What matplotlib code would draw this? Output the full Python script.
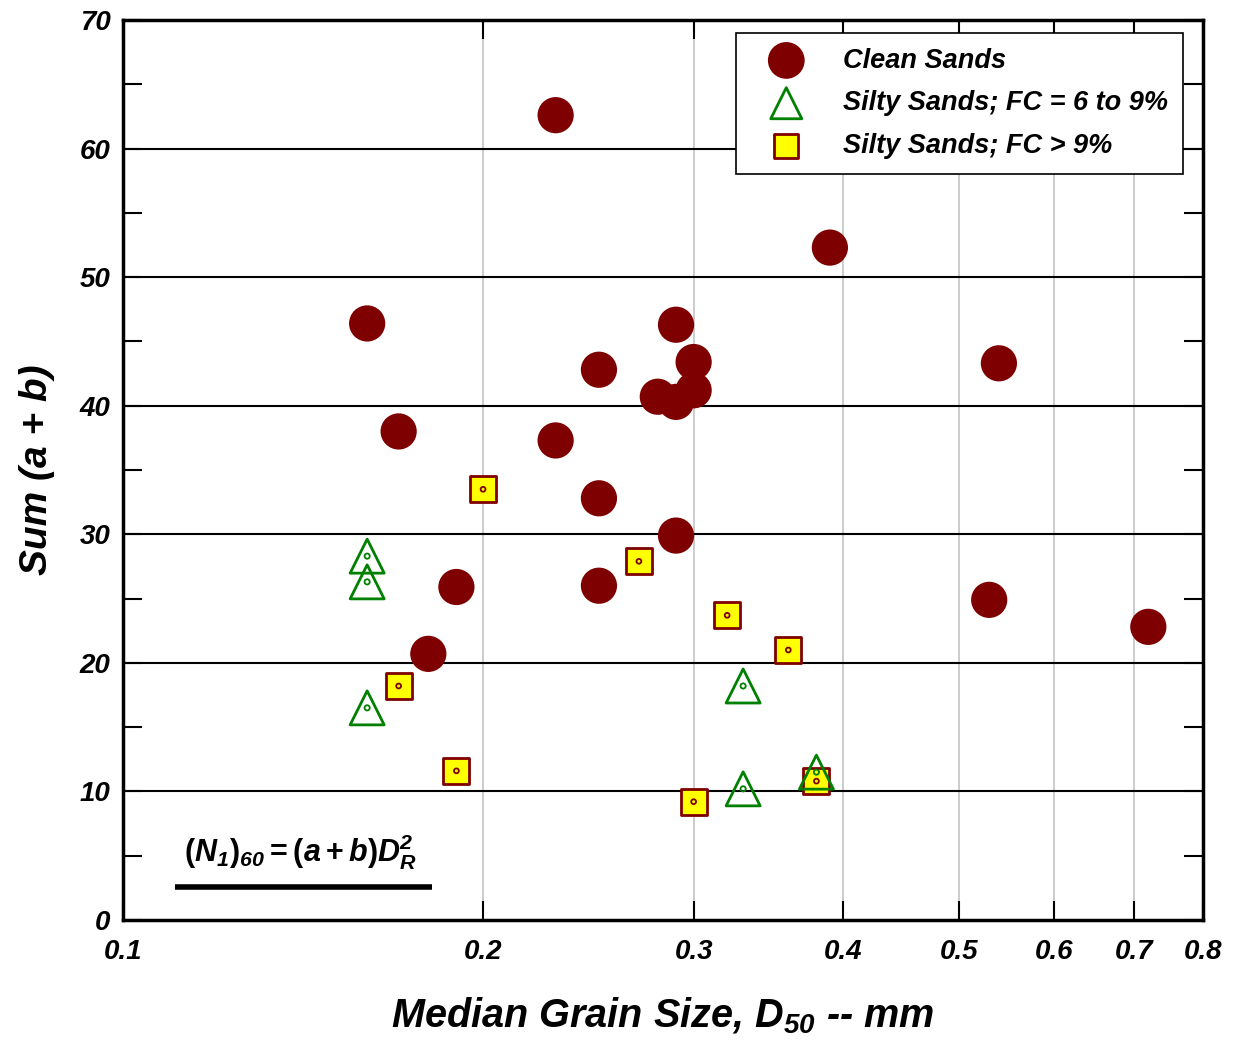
import numpy as np
import matplotlib.pyplot as plt
from matplotlib.ticker import FixedLocator, NullFormatter, NullLocator

plt.rcParams['font.family'] = ['Liberation Sans', 'DejaVu Sans']
plt.rcParams['mathtext.fontset'] = 'custom'
plt.rcParams['mathtext.bfit'] = 'Liberation Sans:bold:italic'
plt.rcParams['mathtext.it'] = 'Liberation Sans:bold:italic'
plt.rcParams['mathtext.rm'] = 'Liberation Sans:bold'

# clean sands
clean_d50 = [0.23, 0.39, 0.16, 0.29, 0.30, 0.25, 0.54, 0.28, 0.29, 0.30,
             0.17, 0.23, 0.25, 0.29, 0.19, 0.25, 0.53, 0.18, 0.72]
clean_sum = [62.6, 52.3, 46.4, 46.3, 43.4, 42.8, 43.3, 40.7, 40.3, 41.2,
             38.0, 37.3, 32.8, 29.9, 25.9, 26.0, 24.9, 20.7, 22.8]

# silty sands, FC = 6 to 9%
fc69_d50 = [0.16, 0.16, 0.16, 0.33, 0.33, 0.38]
fc69_sum = [28.3, 26.3, 16.5, 18.2, 10.2, 11.5]

# silty sands, FC > 9%
fc9_d50 = [0.20, 0.27, 0.32, 0.36, 0.17, 0.19, 0.30, 0.38]
fc9_sum = [33.5, 27.9, 23.7, 21.0, 18.2, 11.6, 9.2, 10.8]

xticks = [0.1, 0.2, 0.3, 0.4, 0.5, 0.6, 0.7, 0.8]
xtick_labels = ['0.1', '0.2', '0.3', '0.4', '0.5', '0.6', '0.7', '0.8']
yticks = [0, 10, 20, 30, 40, 50, 60, 70]

dark_red = '#7f0000'
green = '#008000'

fig = plt.figure(figsize=(12.33, 10.44), dpi=100)
ax = fig.add_axes([0.0998, 0.1188, 0.8759, 0.862])

ax.set_xscale('log')
ax.set_xlim(0.1, 0.8)
ax.set_ylim(0, 70)

# grid: gray verticals, black horizontals
for xv in xticks[1:-1]:
    ax.axvline(xv, color='#c8c8c8', lw=1.3, zorder=0)
for yv in yticks[1:-1]:
    ax.axhline(yv, color='black', lw=1.5, zorder=0)

ax.scatter(clean_d50, clean_sum, s=680, marker='o', color=dark_red,
           edgecolors='none', zorder=3)
ax.scatter(fc9_d50, fc9_sum, s=340, marker='s', facecolor='#ffff00',
           edgecolors=dark_red, linewidths=2, zorder=3)
ax.scatter(fc9_d50, fc9_sum, s=12, marker='o', facecolor='none',
           edgecolors=dark_red, linewidths=1.3, zorder=4)
ax.scatter(fc69_d50, fc69_sum, s=600, marker='^', facecolor='none',
           edgecolors=green, linewidths=2, zorder=5)
ax.scatter(fc69_d50, fc69_sum, s=14, marker='o', facecolor='none',
           edgecolors=green, linewidths=1.3, zorder=5)

# legend handles
h1 = ax.scatter([], [], s=700, marker='o', color=dark_red, edgecolors='none')
h2 = ax.scatter([], [], s=500, marker='^', facecolor='none', edgecolors=green, linewidths=2)
h3 = ax.scatter([], [], s=300, marker='s', facecolor='#ffff00', edgecolors=dark_red, linewidths=2)
leg = ax.legend([h1, h2, h3],
                ['Clean Sands', 'Silty Sands; FC = 6 to 9%', 'Silty Sands; FC > 9%'],
                loc='upper right', bbox_to_anchor=(0.9815, 0.986), frameon=True,
                fancybox=False, edgecolor='black', framealpha=1,
                prop={'weight': 'bold', 'style': 'italic', 'size': 19.5},
                handletextpad=0.8, borderpad=0.55, labelspacing=0.62,
                borderaxespad=0, handlelength=2.6)
leg.get_frame().set_linewidth(1.2)

# formula annotation
ax.text(0.164, 0.053,
        r'$(\mathbfit{N}_{\mathbfit{1}})_{\mathbfit{60}}=(\mathbfit{a}+\mathbfit{b})\mathbfit{D}_{\mathbfit{R}}^{\mathbfit{2}}$',
        transform=ax.transAxes, fontsize=22, ha='center', va='bottom')
ax.plot([0.048, 0.286], [0.037, 0.037], transform=ax.transAxes, color='black', lw=4,
        solid_capstyle='butt', clip_on=False)

# ticks
ax.xaxis.set_major_locator(FixedLocator(xticks))
ax.xaxis.set_minor_locator(NullLocator())
ax.xaxis.set_minor_formatter(NullFormatter())
ax.set_xticks(xticks)
ax.set_xticklabels(xtick_labels)
ax.set_yticks(yticks)
ax.set_yticks(np.arange(5, 70, 10), minor=True)
ax.tick_params(axis='both', which='both', direction='in', width=1.5,
               top=True, right=True)
ax.tick_params(axis='both', which='major', length=14, labelsize=20)
ax.tick_params(axis='x', which='major', pad=14)
ax.tick_params(axis='y', which='major', pad=9)
ax.tick_params(axis='y', which='minor', length=14)
for lab in ax.get_xticklabels() + ax.get_yticklabels():
    lab.set_fontweight('bold')
    lab.set_fontstyle('italic')

for sp in ax.spines.values():
    sp.set_linewidth(2.5)

ax.set_xlabel(r'Median Grain Size, D$_{\mathbfit{50}}$ -- mm', fontsize=28.5,
              fontweight='bold', fontstyle='italic', labelpad=22)
ax.set_ylabel('Sum (a + b)', fontsize=28, fontweight='bold', fontstyle='italic',
              labelpad=18)

fig.savefig('out.png', dpi=100)
